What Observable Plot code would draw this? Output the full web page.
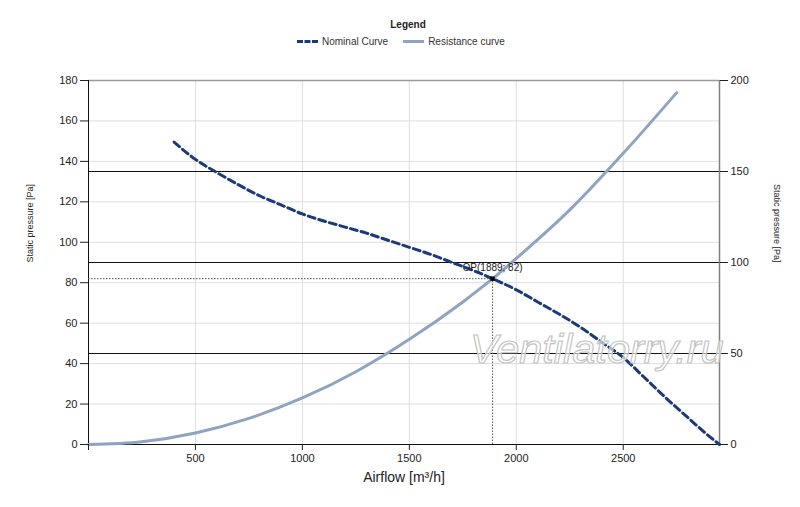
<!DOCTYPE html>
<html><head><meta charset="utf-8">
<script src="https://cdn.jsdelivr.net/npm/d3@7"></script>
<script src="https://cdn.jsdelivr.net/npm/@observablehq/plot@0.6"></script>
<style>
body{margin:0;background:#fff;font-family:"Liberation Sans",Arial,sans-serif;}
#wrap{position:relative;width:800px;height:507px;}
#legend{height:62px;position:relative;}
#lt{position:absolute;left:0;width:816px;top:19px;text-align:center;font-size:10px;font-weight:bold;color:#222;}
#li{position:absolute;top:36px;left:297px;font-size:10px;color:#333;display:flex;align-items:center;white-space:nowrap;}
.sw{display:inline-block;width:21px;height:0;margin-right:4px;}
#wm{position:absolute;left:470px;top:325px;font-size:41.5px;font-style:italic;font-family:"Liberation Sans",Arial,sans-serif;color:rgba(255,255,255,0.6);-webkit-text-stroke:1.2px #c4c4c4;pointer-events:none;}
</style></head>
<body><div id="wrap"><div id="legend"><div id="lt">Legend</div>
<div id="li"><span class="sw" style="border-top:3px dashed #1b3a78"></span><span>Nominal Curve</span><span class="sw" style="border-top:3px solid #8fa3c2;margin-left:15px"></span><span>Resistance curve</span></div></div>
<div id="chart"></div>
<div id="wm">Ventilatorry.ru</div>
</div>
<script>
const nominalFlow = [400, 500, 600, 700, 800, 900, 1000, 1100, 1200, 1300, 1400, 1500, 1600, 1700, 1800, 1889, 2000, 2100, 2200, 2300, 2400, 2500, 2600, 2700, 2800, 2880, 2950];
const nominalPressure = [149.5, 141, 134.5, 128.5, 123, 118.5, 114, 110.5, 107.5, 104.5, 101, 97.5, 94, 90, 86, 82, 76.5, 70.5, 64.5, 58, 50.5, 43, 33, 23, 13.5, 6, 0];
const resistFlow = [0, 250, 500, 750, 1000, 1250, 1500, 1750, 1889, 2000, 2250, 2500, 2750];
const resistPressure = [0, 1.4, 5.7, 12.9, 23, 36, 52, 70.5, 82, 92, 116, 144, 174];
const leftTicks = [0, 20, 40, 60, 80, 100, 120, 140, 160, 180];
const rightTicks = [0, 50, 100, 150, 200];
const xTicks = [0, 500, 1000, 1500, 2000, 2500];
const op = {flow: 1889, pressure: 82};

const nominal = nominalFlow.map((x, i) => ({x, y: nominalPressure[i]}));
const resist = resistFlow.map((x, i) => ({x, y: resistPressure[i]}));
const rightScale = 180 / 200;
const rightInLeft = rightTicks.map(d => d * rightScale);

const chart = Plot.plot({
  width: 800, height: 445,
  marginLeft: 88, marginRight: 81, marginTop: 18, marginBottom: 63,
  style: {fontFamily: '"Liberation Sans", Arial, sans-serif', fontSize: "11px", color: "#222"},
  x: {domain: [0, 2950]},
  y: {domain: [0, 180]},
  marks: [
    Plot.ruleY(leftTicks.slice(1, -1), {stroke: "#dedede", strokeWidth: 1}),
    Plot.ruleX(xTicks.slice(1), {stroke: "#dedede", strokeWidth: 1}),
    Plot.ruleY(rightInLeft.slice(1, -1), {stroke: "#111", strokeWidth: 1}),
    Plot.ruleY([180], {stroke: "#9a9a9a", strokeWidth: 1.5}),
    Plot.ruleX([2950], {stroke: "#808080", strokeWidth: 1.5}),
    Plot.ruleY([0], {stroke: "#111", strokeWidth: 1}),
    Plot.ruleX([0], {stroke: "#111", strokeWidth: 1}),
    Plot.ruleY([op], {x1: 0, x2: "flow", y: "pressure", stroke: "#555", strokeDasharray: "1.5,1.5", strokeWidth: 1}),
    Plot.ruleX([op], {x: "flow", y1: 0, y2: "pressure", stroke: "#555", strokeDasharray: "1.5,1.5", strokeWidth: 1}),
    Plot.line(resist, {x: "x", y: "y", stroke: "#8fa3c2", strokeWidth: 3, curve: "monotone-x"}),
    Plot.line(nominal, {x: "x", y: "y", stroke: "#1b3a78", strokeWidth: 3, strokeDasharray: "7,4", curve: "monotone-x"}),
    Plot.dot([op], {x: "flow", y: "pressure", symbol: "square", r: 2.5, fill: "#000"}),
    Plot.text([op], {x: "flow", y: "pressure", text: d => `OP(${d.flow}; ${d.pressure})`, dy: -11, fontSize: 10, fill: "#222"}),
    Plot.axisY({ticks: leftTicks, tickSize: 8, tickPadding: 3, label: null, fontSize: 11}),
    Plot.axisY({anchor: "right", ticks: rightInLeft, tickFormat: d => String(Math.round(d / rightScale)), tickSize: 8, tickPadding: 3, label: null, fontSize: 11}),
    Plot.axisX({ticks: xTicks, tickFormat: d => d === 0 ? "" : String(d), tickSize: 6, tickPadding: 4, label: null, fontSize: 11}),
    Plot.text(["Static pressure [Pa]"], {frameAnchor: "left", dx: -58, rotate: -90, fontSize: 9, fill: "#222"}),
    Plot.text(["Static pressure [Pa]"], {frameAnchor: "right", dx: 57, rotate: 90, fontSize: 9, fill: "#222"}),
    Plot.text(["Airflow [m³/h]"], {frameAnchor: "bottom", dy: 37, fontSize: 14, fill: "#222"})
  ]
});
document.getElementById("chart").appendChild(chart);
</script></body></html>
